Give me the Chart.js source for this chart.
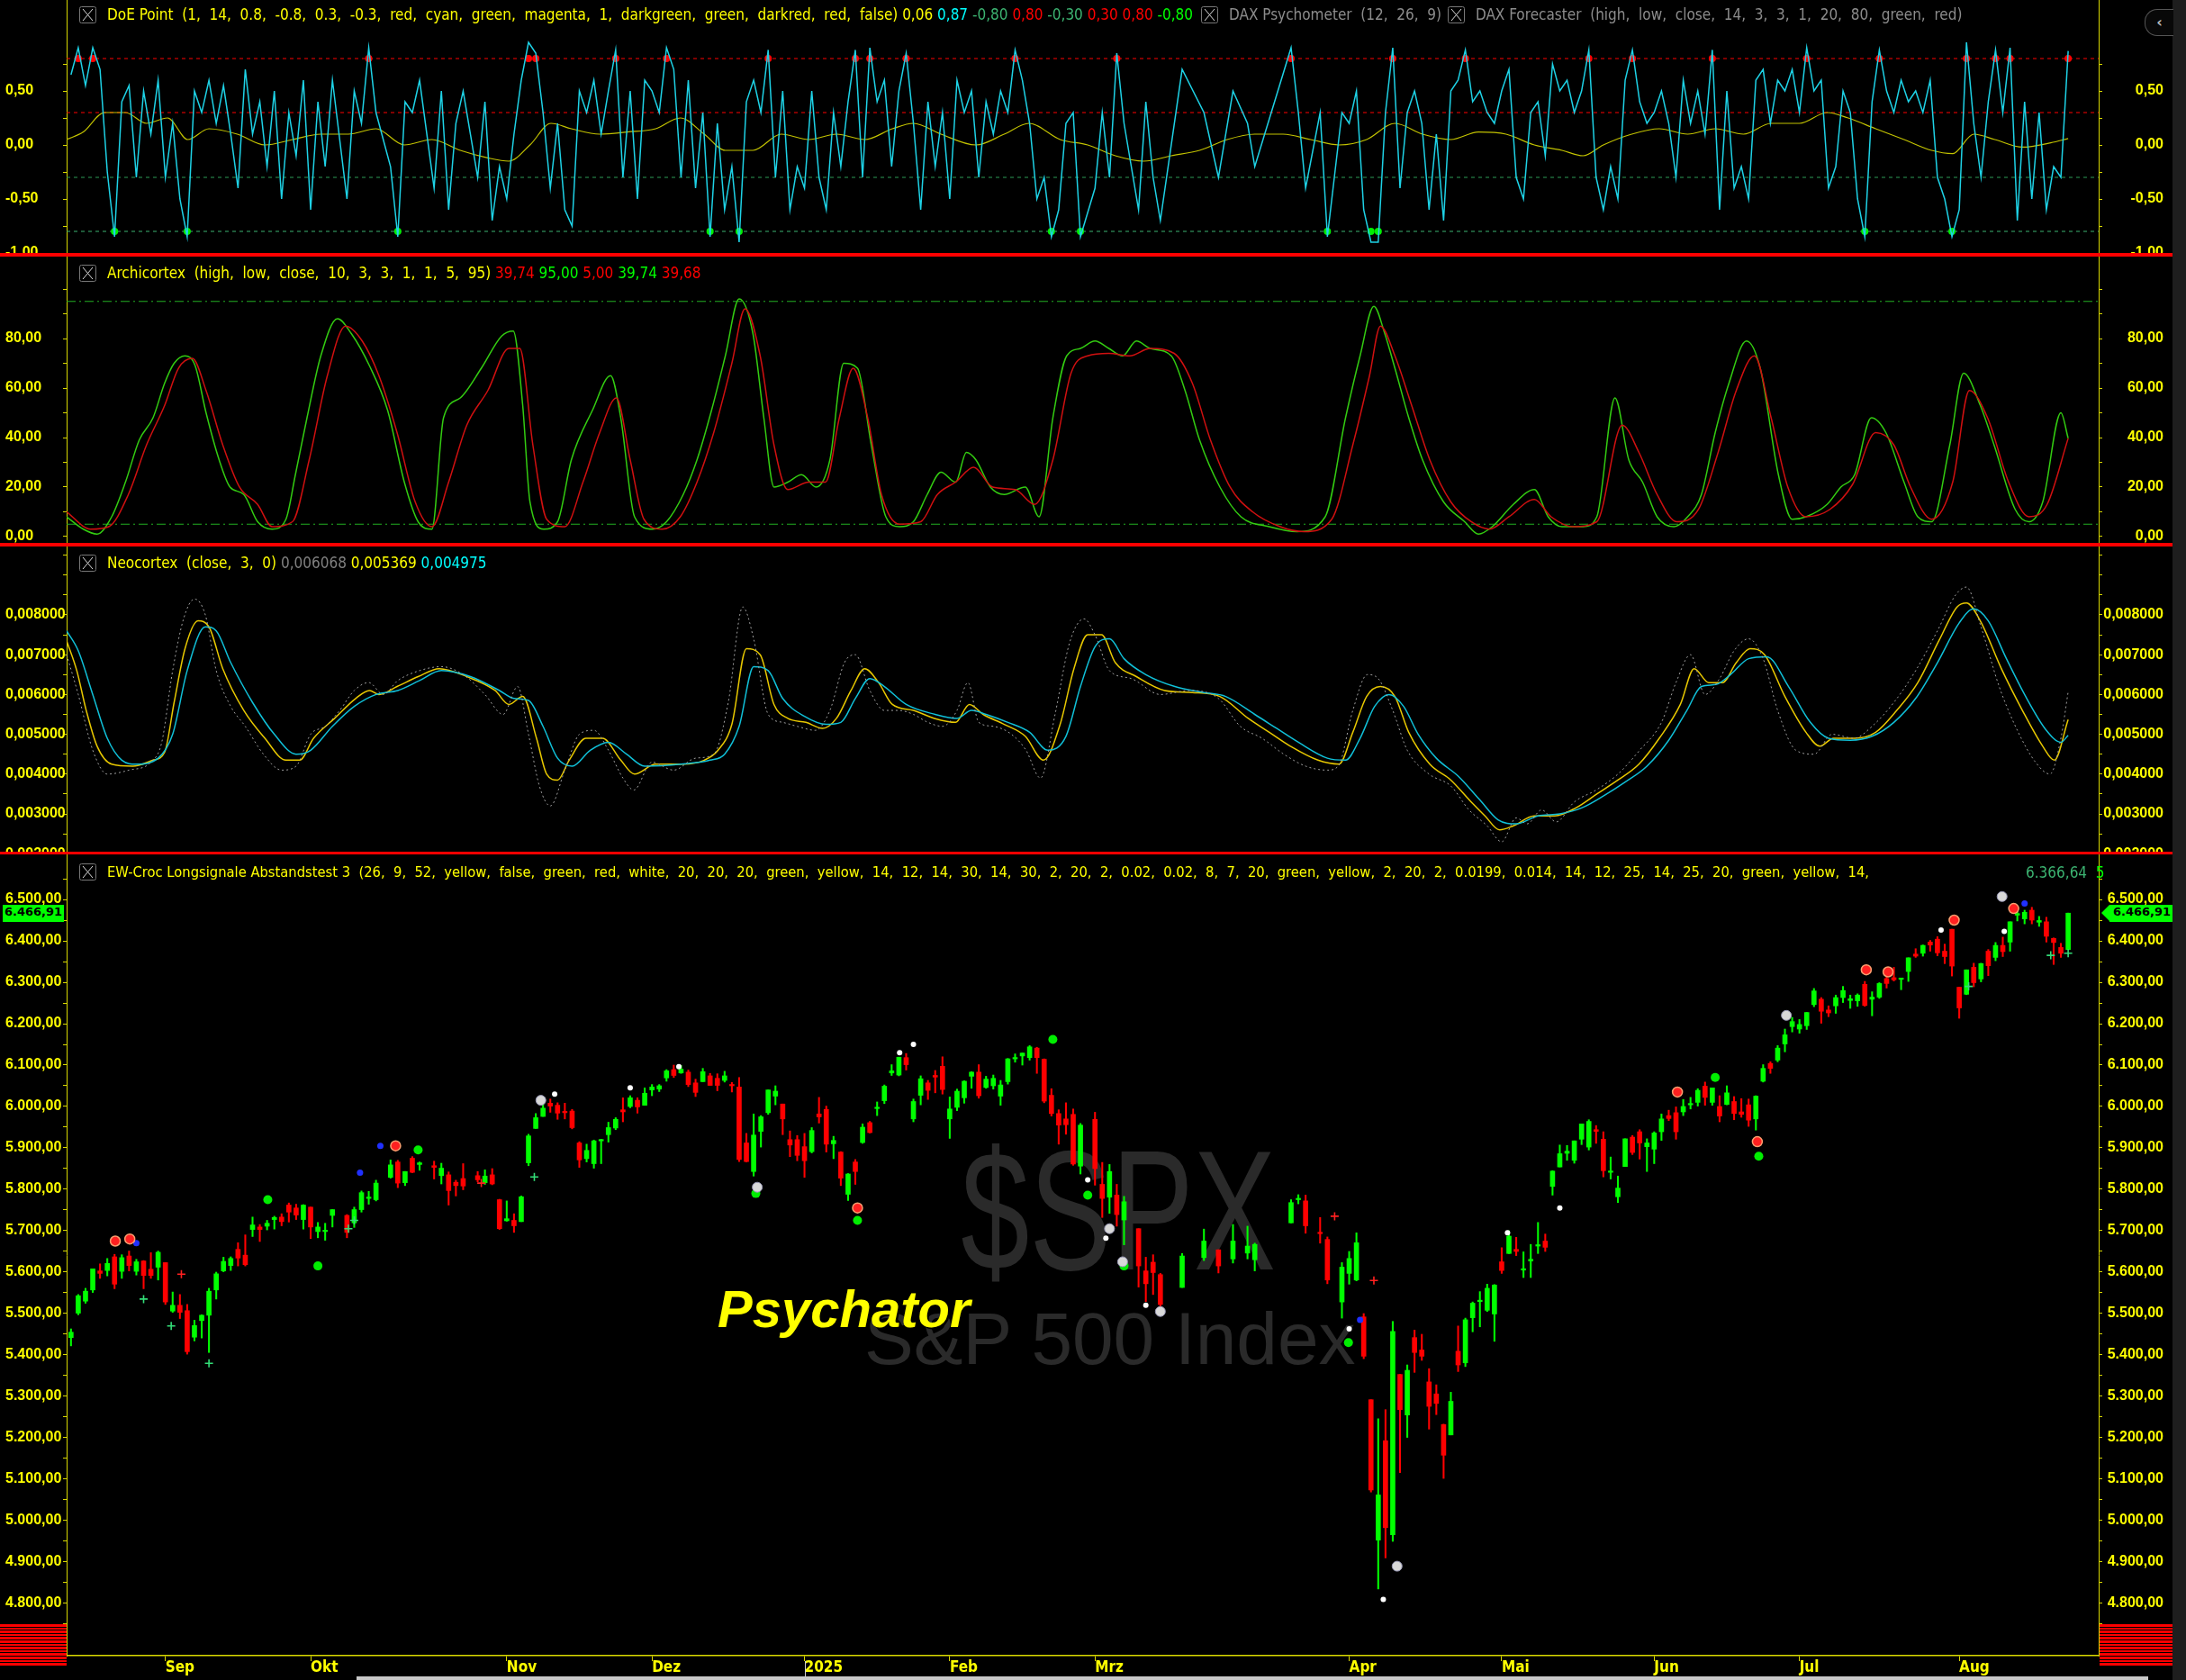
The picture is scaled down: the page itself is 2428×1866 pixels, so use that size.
<!DOCTYPE html>
<html>
<head>
<meta charset="utf-8">
<script src="https://cdn.jsdelivr.net/npm/chart.js@4/dist/chart.umd.min.js"></script>
<style>
  body { margin: 0; background: #000; width: 2428px; height: 1866px; overflow: hidden; position: relative;
         font-family: 'Liberation Sans Narrow', 'DejaVu Sans Condensed', 'Arial Narrow', sans-serif; }
  .box { position: absolute; left: 6px; width: 2397px; overflow: hidden; }
  .box canvas { position: absolute; left: 0; top: -12px; }
  .sep { position: absolute; left: 0; width: 2413px; background: #ff0000; }
  .hdr { position: absolute; left: 88px; height: 22px; line-height: 22px; font-size: 17px; white-space: pre; color: #ffff00; }
  .hdr svg { vertical-align: middle; margin-right: 12px; position: relative; top: -1px; }
  .y { color: #ffff00; } .c { color: #00ffff; } .sg { color: #3cb371; } .r { color: #ff0000; }
  .l { color: #00ff00; } .g { color: #8c8c8c; } .gv { color: #808080; }
  .wm { position: absolute; color: #2a2a2a; font-family: 'Liberation Sans', Arial, sans-serif; white-space: pre; }
  .tag { position: absolute; top: 1005px; height: 19px; line-height: 19px; background: #00ff00; color: #000;
         font: bold 13px 'DejaVu Sans', sans-serif; }
  .stripes { position: absolute; top: 1804px; height: 46px;
             background: repeating-linear-gradient(#ff0000 0 2.6px, #000 2.6px 3.6px); }
</style>
</head>
<body>
<div class="wm" style="left:1000px; top:1235px; font-size:190px; width:480px; text-align:center; transform:scaleX(0.72);">$SPX</div>
<div class="wm" style="left:960px; top:1440px; font-size:82px; width:534px; text-align:center;">S&amp;P 500 Index</div>

<div class="box" style="top:0px; height:281px"><canvas id="doe" width="2397" height="305"></canvas></div>
<div class="box" style="top:285px; height:318px"><canvas id="archi" width="2397" height="342"></canvas></div>
<div class="box" style="top:607px; height:339px"><canvas id="neo" width="2397" height="363"></canvas></div>
<div class="box" style="top:949px; height:917px"><canvas id="price" width="2397" height="929"></canvas></div>

<div class="sep" style="top:281px; height:4px"></div>
<div class="sep" style="top:603px; height:4px"></div>
<div class="sep" style="top:946px; height:3px"></div>

<div class="hdr" style="top:5px"><svg width="19" height="19"><rect x="0.5" y="0.5" width="18" height="18" rx="2" fill="none" stroke="#777"/><line x1="4" y1="3" x2="15" y2="16" stroke="#ddd"/><line x1="15" y1="3" x2="4" y2="16" stroke="#ddd"/></svg><span class="y">DoE Point  (1,  14,  0.8,  -0.8,  0.3,  -0.3,  red,  cyan,  green,  magenta,  1,  darkgreen,  green,  darkred,  red,  false)</span> <span class="y">0,06</span> <span class="c">0,87</span> <span class="sg">-0,80</span> <span class="r">0,80</span> <span class="sg">-0,30</span> <span class="r">0,30</span> <span class="r">0,80</span> <span class="l">-0,80</span> <svg width="19" height="19" style="margin-left:4px"><rect x="0.5" y="0.5" width="18" height="18" rx="2" fill="none" stroke="#777"/><line x1="4" y1="3" x2="15" y2="16" stroke="#ddd"/><line x1="15" y1="3" x2="4" y2="16" stroke="#ddd"/></svg><span class="g">DAX Psychometer  (12,  26,  9)</span> <svg width="19" height="19" style="margin-left:2px"><rect x="0.5" y="0.5" width="18" height="18" rx="2" fill="none" stroke="#777"/><line x1="4" y1="3" x2="15" y2="16" stroke="#ddd"/><line x1="15" y1="3" x2="4" y2="16" stroke="#ddd"/></svg><span class="g">DAX Forecaster  (high,  low,  close,  14,  3,  3,  1,  20,  80,  green,  red)</span></div>

<div class="hdr" style="top:292px"><svg width="19" height="19"><rect x="0.5" y="0.5" width="18" height="18" rx="2" fill="none" stroke="#777"/><line x1="4" y1="3" x2="15" y2="16" stroke="#ddd"/><line x1="15" y1="3" x2="4" y2="16" stroke="#ddd"/></svg><span class="y">Archicortex  (high,  low,  close,  10,  3,  3,  1,  1,  5,  95)</span> <span class="r">39,74</span> <span class="l">95,00</span> <span class="r">5,00</span> <span class="l">39,74</span> <span class="r">39,68</span></div>

<div class="hdr" style="top:614px"><svg width="19" height="19"><rect x="0.5" y="0.5" width="18" height="18" rx="2" fill="none" stroke="#777"/><line x1="4" y1="3" x2="15" y2="16" stroke="#ddd"/><line x1="15" y1="3" x2="4" y2="16" stroke="#ddd"/></svg><span class="y">Neocortex  (close,  3,  0)</span> <span class="gv">0,006068</span> <span class="y">0,005369</span> <span class="c">0,004975</span></div>

<div class="hdr" style="top:958px; font-size:16.4px"><svg width="19" height="19"><rect x="0.5" y="0.5" width="18" height="18" rx="2" fill="none" stroke="#777"/><line x1="4" y1="3" x2="15" y2="16" stroke="#ddd"/><line x1="15" y1="3" x2="4" y2="16" stroke="#ddd"/></svg><span class="y">EW-Croc Longsignale Abstandstest 3  (26,  9,  52,  yellow,  false,  green,  red,  white,  20,  20,  20,  green,  yellow,  14,  12,  14,  30,  14,  30,  2,  20,  2,  0.02,  0.02,  8,  7,  20,  green,  yellow,  2,  20,  2,  0.0199,  0.014,  14,  12,  25,  14,  25,  20,  green,  yellow,  14,</span></div>
<div class="hdr" style="top:958px; left:2250px"><span class="sg">6.366,64</span>  <span class="l">5</span></div>

<div style="position:absolute; left:797px; top:1420px; font: italic bold 58px 'Liberation Sans', Arial, sans-serif; color:#ffff00; text-shadow: 2px 2px 0 #000;">Psychator</div>

<div class="tag" id="tagL" style="left:3px; width:68px; text-align:center"></div>
<div class="tag" id="tagR" style="left:2343px; width:67px; padding-left:4px"></div>
<div style="position:absolute; left:2334px; top:1005px; width:0; height:0; border-top:9.5px solid transparent; border-bottom:9.5px solid transparent; border-right:9px solid #00ff00"></div>

<div class="stripes" style="left:0; width:74px"></div>
<div class="stripes" style="left:2332px; width:81px"></div>
<div style="position:absolute; left:2413px; top:0; width:15px; height:1866px; background:#1e1e1e"></div>
<div style="position:absolute; left:2382px; top:10px; width:31px; height:28px; border:1px solid #555; border-right:none; border-radius:14px 0 0 14px; background:#080808; color:#bbb; font:bold 16px 'DejaVu Sans',sans-serif; line-height:28px; text-align:center">&lsaquo;</div>
<div style="position:absolute; left:396px; top:1862px; width:1990px; height:4px; background:#c8c8c8"></div>

<script>
// trading sessions per month, '-' = empty slot on the time axis
const sessions = [
  ['2024-08', '14 15 16 19 20 21 22 23 26 27 28 29 30'],
  ['2024-09', '3 4 5 6 9 10 11 12 13 16 17 18 19 20 23 24 25 26 27 30'],
  ['2024-10', '1 2 3 4 - 7 8 9 10 11 - 14 15 16 17 18 - 21 22 23 24 25 - 28 29 30 31'],
  ['2024-11', '1 4 5 6 7 8 11 12 13 14 15 18 19 20 21 22 25 26 27 29'],
  ['2024-12', '2 3 4 5 6 9 10 11 12 13 16 17 18 19 20 23 24 26 27 30 31'],
  ['2025-01', '2 3 6 7 8 10 13 14 15 16 17 21 22 23 24 27 28 29 30 31'],
  ['2025-02', '3 4 5 6 7 10 11 12 13 14 18 19 20 21 24 25 26 27 28'],
  ['2025-03', '- 3 4 5 6 7 - 10 11 12 13 - - 14 - - 17 - 18 - 19 - 20 21 - - - - 24 25 26 - 27 28 - 31'],
  ['2025-04', '1 2 3 4 7 8 9 10 11 14 15 16 17 21 22 23 24 25 28 29 30'],
  ['2025-05', '1 2 5 6 7 8 9 12 13 14 15 16 19 20 21 22 23 27 28 29 30'],
  ['2025-06', '2 3 4 5 6 9 10 11 12 13 16 17 18 20 23 24 25 26 27 30'],
  ['2025-07', '1 2 3 7 8 9 10 11 14 15 16 17 18 21 22 23 24 25 28 29 30 31'],
  ['2025-08', '1 4 5 6 7 8 11 12 13 14 15 18 19 20 21 22']
]
const monthNames = ['Jan', 'Feb', 'Mrz', 'Apr', 'Mai', 'Jun', 'Jul', 'Aug', 'Sep', 'Okt', 'Nov', 'Dez']
const xMin = -0.6
const xMax = 279.2

// $SPX daily candles [open, high, low, close]
const candles = [
  // Aug 2024
  [5442,5463,5422,5455],[5501,5546,5497,5543],[5530,5561,5525,5554],[5557,5608,5551,5608],[5603,5620,5585,5597],
  [5604,5633,5591,5621],[5637,5643,5560,5571],[5602,5642,5585,5635],[5639,5651,5603,5616],[5602,5631,5593,5625],
  [5627,5628,5560,5592],[5607,5647,5585,5592],[5612,5651,5581,5648],
  // Sep
  [5623,5623,5522,5528],[5506,5552,5503,5520],[5520,5546,5488,5503],[5507,5522,5402,5408],[5443,5484,5434,5471],
  [5483,5497,5441,5496],[5496,5561,5406,5554],[5557,5600,5535,5596],[5603,5636,5601,5626],[5616,5637,5604,5633],
  [5655,5671,5615,5634],[5641,5690,5615,5618],[5703,5733,5686,5714],[5709,5715,5674,5703],[5711,5725,5702,5718],
  [5727,5735,5704,5732],[5733,5741,5712,5722],[5762,5767,5721,5745],[5755,5764,5727,5738],[5727,5763,5704,5762],
  // Oct
  [5757,5757,5681,5709],[5698,5720,5683,5709],[5698,5718,5677,5700],[5737,5751,5709,5751],[5737,5739,5683,5696],
  [5719,5757,5708,5751],[5751,5796,5745,5792],[5778,5795,5764,5780],[5775,5822,5772,5815],[5829,5871,5827,5859],
  [5866,5870,5804,5815],[5816,5843,5809,5843],[5875,5879,5840,5841],[5860,5866,5846,5864],[5857,5868,5825,5853],
  [5833,5863,5813,5851],[5835,5842,5762,5797],[5817,5822,5784,5809],[5826,5862,5799,5808],[5833,5843,5818,5823],
  [5816,5847,5812,5832],[5835,5850,5811,5813],[5775,5776,5703,5705],
  // Nov
  [5724,5772,5723,5729],[5725,5741,5696,5712],[5722,5784,5722,5782],[5864,5933,5857,5929],[5947,5983,5947,5973],
  [5976,6012,5976,5996],[6008,6018,5986,6001],[6003,6009,5969,5984],[5986,6008,5970,5985],[5989,5993,5946,5949],
  [5912,5915,5853,5871],[5874,5909,5866,5894],[5862,5919,5851,5917],[5917,5921,5862,5917],[5932,5962,5914,5949],
  [5948,5973,5944,5969],[5992,6021,5963,5987],[6000,6026,5997,6021],[6015,6021,5984,5999],[6003,6045,6003,6032],
  // Dec
  [6040,6053,6026,6047],[6042,6053,6036,6050],[6069,6089,6061,6086],[6089,6100,6070,6075],[6081,6099,6080,6090],
  [6083,6088,6048,6053],[6057,6066,6024,6034],[6060,6092,6060,6084],[6074,6080,6051,6051],[6068,6079,6038,6051],
  [6063,6085,6059,6074],[6053,6058,6035,6050],[6047,6070,5867,5872],[5912,5935,5866,5867],[5843,5982,5832,5931],
  [5940,5978,5902,5975],[5985,6040,5981,6040],[6025,6050,6004,6037],[6006,6006,5932,5970],[5920,5941,5879,5907],
  [5920,5930,5869,5882],
  // Jan 2025
  [5903,5935,5829,5869],[5891,5949,5888,5942],[5982,6022,5960,5975],[5993,6001,5890,5909],[5910,5928,5874,5918],
  [5890,5891,5809,5827],[5788,5838,5773,5837],[5866,5872,5812,5843],[5913,5958,5911,5950],[5961,5964,5936,5937],
  [5995,6011,5978,5997],[6014,6052,6007,6049],[6081,6101,6075,6086],[6076,6119,6074,6119],[6118,6128,6088,6101],
  [5970,6018,5963,6012],[6027,6074,6004,6067],[6057,6063,6017,6039],[6075,6087,6033,6071],[6097,6120,6030,6041],
  // Feb
  [5970,6023,5923,5994],[5998,6042,5990,6037],[6021,6062,6008,6061],[6073,6084,6044,6083],[6083,6101,6020,6026],
  [6046,6073,6044,6066],[6050,6076,6042,6068],[6025,6063,6003,6052],[6060,6116,6054,6115],[6115,6127,6107,6115],
  [6122,6129,6100,6129],[6118,6147,6112,6144],[6141,6143,6080,6118],[6114,6115,6009,6013],[6027,6043,5977,5983],
  [5983,5992,5909,5955],[5970,6009,5933,5956],[5981,5994,5858,5861],[5856,5959,5837,5955],
  // Mar
  [5969,5986,5810,5850],[5812,5865,5732,5778],[5781,5860,5742,5843],[5786,5812,5711,5739],[5726,5783,5666,5770],
  [5705,5705,5564,5615],[5603,5636,5529,5572],[5624,5642,5546,5599],[5594,5597,5505,5522],[5563,5645,5563,5639],
  [5635,5704,5628,5675],[5654,5654,5598,5615],[5632,5715,5622,5675],[5646,5711,5632,5663],[5630,5670,5603,5667],
  [5719,5775,5719,5768],[5775,5787,5765,5777],[5772,5786,5694,5712],[5695,5732,5670,5693],[5679,5685,5572,5581],
  [5528,5623,5489,5612],
  // Apr
  [5597,5650,5571,5633],[5581,5695,5579,5671],[5492,5500,5391,5397],[5292,5292,5069,5074],[4953,5246,4835,5062],
  [5193,5268,4910,4983],[4966,5481,4950,5457],[5353,5353,5116,5268],[5255,5376,5201,5363],[5442,5460,5358,5406],
  [5412,5450,5387,5397],[5335,5367,5221,5276],[5306,5328,5256,5283],[5232,5233,5102,5158],[5207,5310,5207,5288],
  [5409,5470,5360,5376],[5381,5489,5372,5485],[5490,5528,5456,5525],[5529,5553,5468,5529],[5508,5571,5505,5561],
  [5499,5570,5433,5569],
  // May
  [5625,5659,5597,5604],[5645,5700,5645,5687],[5655,5684,5640,5650],[5605,5649,5587,5607],[5627,5667,5587,5631],
  [5663,5720,5645,5664],[5675,5692,5650,5660],[5807,5845,5786,5844],[5854,5907,5854,5886],[5887,5906,5870,5892],
  [5870,5917,5863,5917],[5921,5958,5908,5958],[5902,5968,5895,5964],[5944,5954,5911,5940],[5921,5939,5830,5845],
  [5841,5878,5825,5842],[5782,5832,5768,5803],[5855,5922,5855,5922],[5926,5930,5884,5889],[5939,5944,5873,5912],
  [5903,5922,5843,5912],
  // Jun
  [5897,5939,5862,5936],[5939,5982,5918,5970],[5978,5991,5966,5971],[5985,5999,5921,5939],[5987,6017,5978,6000],
  [6004,6022,5994,6006],[6010,6043,6001,6039],[6049,6059,6003,6022],[6010,6045,6003,6045],[6000,6026,5963,5977],
  [6005,6050,6004,6033],[6012,6024,5968,5983],[5987,6019,5974,5981],[6004,6018,5952,5967],[5970,6026,5943,6025],
  [6061,6101,6059,6092],[6104,6108,6080,6092],[6112,6147,6108,6141],[6151,6187,6132,6173],[6193,6215,6180,6205],
  // Jul
  [6187,6210,6177,6198],[6195,6227,6186,6227],[6246,6285,6241,6279],[6259,6263,6201,6230],[6233,6243,6217,6226],
  [6243,6269,6225,6263],[6263,6290,6251,6280],[6256,6269,6237,6260],[6255,6272,6242,6269],[6295,6302,6242,6244],
  [6259,6277,6219,6264],[6264,6299,6261,6297],[6309,6316,6286,6297],[6311,6336,6303,6306],[6307,6310,6282,6310],
  [6326,6359,6302,6359],[6368,6381,6360,6363],[6370,6390,6363,6389],[6397,6401,6375,6390],[6404,6410,6364,6371],
  [6375,6392,6345,6362],[6428,6428,6315,6339],
  // Aug
  [6288,6288,6213,6238],[6271,6330,6270,6330],[6336,6346,6289,6299],[6308,6346,6301,6345],[6375,6379,6316,6340],
  [6360,6396,6352,6389],[6389,6409,6362,6374],[6397,6446,6375,6446],[6462,6481,6448,6466],[6453,6474,6441,6469],
  [6474,6481,6441,6450],[6445,6459,6435,6449],[6446,6457,6397,6411],[6406,6407,6343,6396],[6384,6394,6360,6370],
  [6379,6467,6379,6466.91]
]

// DoE Point oscillator, one value per session
const doeCyan = [
  0.65, 0.9, 0.55, 0.9, 0.7, -0.25, -0.85, 0.4, 0.55, -0.3, 0.5, 0.1, 0.6,
  -0.3, 0.2, -0.5, -0.85, 0.5, 0.3, 0.6, 0.2, 0.55, 0.1, -0.4, 0.7, 0.1, 0.4, -0.2, 0.5, -0.5, 0.3, -0.1, 0.6,
  -0.6, 0.4, -0.2, 0.6, -0.5, 0.5, 0.2, 0.9, 0.3, -0.2, -0.85, 0.4, 0.3, 0.6, -0.4, 0.5, -0.6, 0.2, 0.5, -0.3, 0.4, -0.7, -0.2,
  -0.5, 0.1, 0.6, 0.95, 0.85, 0.3, -0.4, 0.2, -0.6, -0.75, 0.5, 0.3, 0.6, 0.1, 0.5, 0.88, -0.3, 0.5, -0.5, 0.6,
  0.5, 0.3, 0.9, 0.7, -0.3, 0.6, -0.4, 0.3, -0.85, 0.2, -0.6, -0.2, -0.9, 0.4, 0.6, 0.3, 0.88, -0.3, 0.5, -0.6, -0.2,
  -0.4, 0.5, -0.3, -0.6, 0.3, -0.2, 0.4, 0.88, -0.3, 0.9, 0.4, 0.6, -0.2, 0.5, 0.85, 0.2, -0.6, 0.4, -0.2, 0.3,
  -0.5, 0.6, 0.3, 0.5, -0.3, 0.4, 0.1, 0.5, 0.3, 0.88, 0.6, 0.2, -0.5, -0.3, -0.85, -0.6, 0.2, 0.3, -0.85,
  -0.4, 0.3, -0.3, 0.85, 0.2, -0.6, 0.4, -0.3, -0.7, 0.7, 0.3, -0.3, 0.5, 0.2, -0.2, 0.9, 0.3, -0.4, 0.3, -0.85, 0.3,
  0.2, 0.5, -0.6, -0.9, -0.9, 0.3, 0.9, -0.4, 0.3, 0.5, 0.2, -0.6, 0.1, -0.7, 0.5, 0.6, 0.88, 0.4, 0.5, 0.3, 0.2,
  0.5, 0.7, -0.3, -0.5, 0.3, 0.4, -0.1, 0.75, 0.5, 0.6, 0.3, 0.5, 0.88, -0.3, -0.6, -0.2, -0.5, 0.6, 0.88, 0.4, 0.2,
  0.3, 0.5, 0.2, -0.3, 0.6, 0.2, 0.5, 0.1, 0.88, -0.6, 0.5, -0.4, -0.2, -0.5, 0.6, 0.7, 0.2, 0.6, 0.5, 0.7,
  0.3, 0.9, 0.5, 0.6, -0.4, -0.2, 0.5, 0.3, -0.5, -0.85, 0.4, 0.88, 0.5, 0.3, 0.6, 0.4, 0.5, 0.3, 0.6, -0.3, -0.5, -0.85,
  -0.6, 0.95, 0.2, -0.3, 0.4, 0.88, 0.3, 0.9, -0.7, 0.4, -0.5, 0.3, -0.6, -0.2, -0.3, 0.87
]
// smoothed DoE line, [slot, value]
const doeSignal = [
  [-0.6,0.05],[1.7,0.12],[4.6,0.3],[7.5,0.3],[10.4,0.2],[13.3,0.25],[16.1,0.05],[19,0.15],[22.9,0.1],[26.7,0],
  [30.5,0.05],[34.4,0.1],[38.2,0.1],[42,0.15],[45.9,0],[49.7,0.05],[53.6,-0.05],[57.4,-0.12],[60.3,-0.15],[63.2,0],
  [66.1,0.2],[68.9,0.15],[72.8,0.1],[76.6,0.12],[80.5,0.15],[83.9,0.25],[87.2,0.1],[90.1,-0.05],[93.9,-0.05],[97.8,0.1],
  [101.6,0.05],[105.4,0.1],[109.3,0.05],[113.1,0.15],[116,0.2],[119.8,0.1],[124.6,0],[128.5,0.1],[131.9,0.2],[136.2,0.05],
  [140,0],[143.8,-0.1],[147.7,-0.15],[151.5,-0.1],[155.4,-0.05],[159.2,0.05],[163,0.1],[166.9,0.1],[170.7,0.05],[174.6,0],
  [178.4,0.05],[182.3,0.2],[186.1,0.1],[190,0.05],[193.8,0.12],[197.6,0.1],[201.5,0],[205.3,-0.05],[208.2,-0.1],[211,0],
  [214.9,0.1],[218.7,0.15],[222.6,0.1],[226.4,0.15],[230.3,0.1],[234.1,0.2],[238,0.2],[241.8,0.3],[244.7,0.25],[248.5,0.15],
  [252.4,0.05],[256.2,-0.05],[259.1,-0.08],[262,0.1],[264.9,0.05],[268.7,-0.02],[272.6,0.02],[275,0.06]
]
const doeLevels = [0.8, 0.3, -0.3, -0.8]
const doeTicks = [-1, -0.5, 0, 0.5]
const doeMinor = [-0.75, -0.25, 0.25, 0.75]

// Archicortex, [slot, value]
const archiGreen = [
  [-0.6,8],[1.7,3],[3.6,1],[5.6,8],[7.5,22],[9.4,39],[11.3,48],[12.9,62],[14.2,70],[15.7,73],[17.1,69],[18.6,50],
  [20.4,31],[21.9,20],[23.8,17],[25.7,6],[27.7,3],[29.6,7],[30.9,25],[32.5,48],[34.4,73],[36.7,88],[38.6,82],[41.1,69],
  [43.6,51],[45.9,22],[47.8,6],[49.7,3],[51.3,48],[53.6,56],[56.5,68],[59.3,81],[60.9,83],[62.2,53],[63.2,14],[65.1,3],
  [67,6],[68.9,31],[71.8,51],[74.3,65],[75.7,48],[77.6,8],[80.1,3],[82,6],[84.3,17],[86.2,31],[88.2,51],[90.1,73],
  [92,96],[93.9,82],[95.4,48],[96.8,20],[98.7,22],[100.6,25],[102.6,20],[104.5,31],[106.4,70],[108.3,68],[110.2,37],
  [112.2,8],[114.1,4],[116,6],[117.9,17],[119.8,26],[121.8,22],[123.3,34],[124.6,31],[126.6,20],[128.5,17],[131.4,20],
  [133.3,8],[135.2,48],[137.1,73],[139,76],[141,79],[142.9,76],[144.8,73],[146.7,79],[148.6,76],[151.5,73],[153.4,59],
  [155.4,39],[158.2,20],[161.1,8],[165,4],[168.8,2],[172.7,8],[175.5,48],[177.5,73],[179.4,93],[180.9,82],[182.3,68],
  [184.2,48],[186.1,31],[189,14],[191.9,6],[193.8,1],[195.7,4],[198.6,13],[201.5,19],[203.4,8],[205.3,4],[208.2,4],
  [210.1,8],[212.6,56],[214.5,31],[216.4,22],[218.4,8],[220.7,4],[222.6,8],[224.5,17],[226.4,42],[228.3,62],[230.7,79],
  [232.6,68],[235.1,25],[237,7],[238.9,8],[241.8,13],[243.7,20],[245.6,25],[247.9,48],[249.9,42],[252.4,22],[254.3,8],
  [256.2,6],[258.7,37],[260.6,66],[262.9,53],[264.8,37],[267.7,11],[269.6,6],[271.5,14],[274,50],[275,39.74]
]
const archiRed = [
  [-0.6,10],[2.7,3],[5.2,4],[7.9,17],[10.4,37],[12.9,53],[14.8,68],[16.7,72],[18.6,59],[20.9,37],[23.2,20],[25.7,13],
  [27.7,4],[30.5,6],[32.8,31],[35.3,65],[37.8,85],[40.1,79],[42.4,65],[44.9,42],[47.4,14],[49.7,4],[52,22],[54.5,45],
  [57.4,59],[60.3,76],[61.8,76],[63.6,37],[65.5,7],[68,4],[70.5,22],[72.8,42],[75.1,56],[77,31],[78.9,7],[81.4,3],
  [83.9,8],[86.2,22],[88.5,42],[91,70],[92.8,92],[94.9,73],[96.8,37],[98.7,19],[101.6,22],[103.9,22],[105.8,48],
  [107.7,68],[109.7,48],[111.6,17],[114.1,5],[117,6],[119.3,17],[121.8,22],[124.3,28],[126.9,20],[130,19],[132.7,13],
  [135.2,31],[137.7,66],[140,73],[142.9,74],[145.8,73],[148.6,76],[151.9,74],[154.4,62],[156.9,39],[159.6,20],[162.7,10],
  [166.5,4],[169.8,2],[173.6,7],[176.5,37],[178.8,65],[180.3,85],[182.3,73],[184.6,53],[187.1,31],[190,14],[192.8,6],
  [195.3,3],[198,8],[201.5,15],[203.8,8],[206.8,4],[210.1,6],[213.6,45],[215.9,34],[218.4,17],[221.1,6],[224.1,11],
  [226.8,34],[229.3,59],[231.8,73],[234.1,48],[236.4,20],[238.9,8],[242.2,11],[245.3,21],[248.5,42],[251,37],[253.3,20],
  [256.2,7],[259.1,22],[261.4,59],[263.9,48],[266.8,22],[269.6,8],[272.1,13],[275,39.68]
]
const archiLevels = [95, 5]
const archiTicks = [0, 20, 40, 60, 80]
const archiMinor = [10, 30, 50, 70, 90, 100]

// Neocortex (values in thousandths), [slot, value]
const neoFast = [
  [-0.6,7.0],[1,6.0],[3,4.6],[5,4.0],[8,4.1],[11,4.3],[12.5,4.8],[14,6.6],[15.5,7.9],[17,8.4],[18.5,8.0],[20,6.6],
  [22,5.7],[24,5.2],[26.5,4.5],[29,4.1],[31,4.2],[33,5.0],[35,5.2],[37,5.6],[39,6.1],[41,6.3],[43,6.0],[45,6.35],
  [48,6.6],[51,6.7],[54,6.5],[57,6.0],[59.5,5.5],[61.5,6.2],[63,5.0],[64.5,3.7],[66,3.2],[68,4.1],[70,5.0],[72,5.1],
  [74,4.6],[76,3.9],[77.5,3.6],[80,4.3],[83,4.1],[86,4.4],[88.5,4.5],[90.5,5.8],[92.5,8.2],[94,7.4],[96,5.5],[98,5.3],
  [100,5.2],[102.5,5.1],[104.5,5.6],[106.5,6.8],[108,7.0],[110,6.1],[112,5.6],[114,5.6],[116,5.5],[118,5.3],[120,5.2],
  [122,5.6],[123.5,6.3],[125,5.3],[127,5.2],[129.5,5.0],[131.5,4.6],[133.5,3.9],[135.5,5.5],[137.5,7.3],[139.5,7.9],
  [141,7.5],[143,6.6],[146,6.4],[150,6.0],[154,6.1],[158,5.9],[161,5.2],[164,4.9],[167,4.5],[170,4.2],[173,4.1],
  [174.5,4.2],[176.5,5.6],[178.5,6.5],[180,6.4],[182,5.6],[184,4.6],[187,4.0],[190,3.7],[192.5,3.1],[195,2.7],[197,2.3],
  [199,2.9],[200.5,2.75],[202.5,3.1],[204.5,2.8],[207,3.3],[210,3.6],[213,4.0],[216,4.6],[219,5.3],[221,6.3],[223,7.0],
  [225,6.0],[227,6.4],[229,7.1],[231,7.4],[233,6.9],[235,5.6],[237.5,4.6],[240,4.5],[242.5,5.0],[245.5,4.9],[248,5.2],
  [251,5.8],[254,6.6],[257,7.6],[259.5,8.5],[261,8.7],[263,7.7],[265.5,6.2],[268,5.1],[270.5,4.3],[272.5,4.0],[274,4.9],
  [275,6.068]
]
const neoMid = [
  [-0.6,7.35],[0.8,6.6],[2.1,5.6],[3.6,4.7],[5.6,4.25],[8.5,4.2],[11.3,4.35],[12.9,4.55],[14.2,5.8],[15.7,7.15],
  [17.5,7.85],[19,7.7],[20.9,6.65],[23.8,5.6],[26.7,4.9],[29.6,4.35],[31.5,4.35],[33.4,4.9],[36.3,5.4],[39.2,5.9],
  [41.1,6.1],[42.4,6.0],[44.9,6.2],[47.8,6.45],[50.7,6.65],[54.5,6.45],[58.4,6.1],[60.3,5.75],[62.2,5.95],[64.1,4.9],
  [65.5,4.0],[67,3.85],[68.6,4.35],[70.9,4.9],[73.2,4.9],[75.7,4.35],[77.6,4.0],[80.5,4.25],[84.3,4.25],[87.2,4.35],
  [89.1,4.6],[91,5.25],[93,7.15],[94.9,7.0],[96.8,5.75],[98.7,5.4],[101.2,5.3],[103.5,5.15],[105.4,5.4],[107.4,6.1],
  [109.3,6.65],[111.2,6.3],[113.1,5.75],[116,5.6],[118.9,5.4],[121.8,5.3],[123.7,5.75],[125.6,5.5],[128.5,5.25],
  [131.4,4.95],[133.9,4.35],[136.2,5.25],[138.1,6.65],[140,7.5],[141.9,7.5],[143.8,6.8],[146.7,6.45],[150.6,6.1],
  [154.4,6.05],[158.2,5.95],[162.1,5.4],[165,5.05],[167.9,4.7],[171.7,4.35],[174.6,4.25],[176.5,5.05],[178.4,5.95],
  [180.3,6.2],[182.3,5.95],[184.2,5.05],[187.1,4.25],[190,3.85],[192.8,3.3],[194.7,2.95],[196.7,2.6],[198.6,2.7],
  [201.5,2.95],[204.3,2.95],[207.2,3.15],[210.1,3.5],[213,3.85],[215.9,4.25],[218.7,4.9],[221.6,5.75],[223.5,6.65],
  [225.5,6.3],[227.4,6.3],[229.3,6.8],[231.2,7.15],[233.2,7.0],[236,5.95],[238.9,5.05],[240.8,4.7],[242.7,4.9],
  [245.6,4.9],[248.5,5.05],[251.4,5.6],[254.3,6.3],[257.2,7.35],[259.7,8.2],[261,8.3],[262.9,7.85],[265.8,6.65],
  [268.7,5.6],[271.5,4.7],[273.1,4.35],[275,5.369]
]
const neoSlow = [
  [-0.6,7.6],[1,7.1],[3,6.0],[5,4.9],[7,4.35],[9,4.25],[12,4.4],[14,5.0],[16,6.6],[18.5,7.7],[20,7.6],[22,6.8],
  [25,5.8],[28,5.0],[31,4.5],[33,4.6],[36,5.2],[39,5.7],[42,6.0],[45,6.1],[48,6.35],[51,6.6],[55,6.45],[59,6.1],
  [61,5.9],[63,5.85],[65,5.2],[67,4.4],[69,4.2],[71.5,4.6],[74,4.8],[76.5,4.5],[79,4.2],[84,4.25],[88,4.35],[90,4.5],
  [92,5.2],[94,6.7],[96,6.6],[98,5.9],[101,5.45],[104,5.25],[106,5.3],[108,5.9],[110,6.4],[112,6.2],[115,5.75],
  [119,5.5],[122,5.4],[124,5.6],[126,5.5],[129,5.3],[132,5.05],[134.5,4.6],[137,4.95],[139,6.2],[141,7.2],[143,7.4],
  [145,6.9],[148,6.5],[152,6.2],[156,6.05],[159,5.95],[163,5.5],[166,5.15],[169,4.8],[173,4.4],[175.5,4.35],[177.5,4.9],
  [179.5,5.7],[181.5,6.0],[183.5,5.7],[185.5,5.0],[188,4.4],[191,3.95],[194,3.35],[196.5,2.85],[199,2.75],[202,2.95],
  [205,3.0],[208,3.15],[211,3.45],[214,3.8],[217,4.2],[220,4.85],[222.5,5.6],[224.5,6.2],[226.5,6.25],[228.5,6.5],
  [231,6.9],[233.5,6.95],[236.5,6.2],[239.5,5.3],[242,4.9],[245,4.85],[248,4.95],[251,5.3],[254,5.9],[257,6.8],[260,7.8],
  [262,8.15],[264,7.85],[266.5,6.9],[269,6.0],[272,5.1],[274,4.8],[275,4.975]
]
const neoTicks = [0.002, 0.003, 0.004, 0.005, 0.006, 0.007, 0.008]
const neoMinor = [0.0025, 0.0035, 0.0045, 0.0055, 0.0065, 0.0075, 0.0085, 0.009, 0.0095]

// EW-Croc signal markers, [slot, price]
const sigRed = [[6.1,5675],[8.1,5680],[44.7,5905],[108.3,5755],[221.2,6035],[232.2,5915],[247.2,6330],[250.2,6325],[259.3,6450],[267.5,6478]]
const sigGray = [[64.7,6015],[94.5,5805],[143,5705],[144.8,5625],[150,5505],[182.6,4890],[236.2,6220],[265.9,6507]]
const sigWhite = [[66.6,6030],[77,6045],[83.7,6096],[114.1,6130],[116,6150],[140,5823],[142.5,5682],[148,5520],[176,5463],[180.7,4810],[197.8,5695],[205,5755],[257.5,6426],[266.2,6423]]
const sigGreen = [[27.1,5775],[34,5615],[47.8,5895],[94.3,5790],[108.3,5725],[135.2,6162],[140,5786],[145,5615],[175.9,5430],[226.4,6070],[232.4,5880]]
const sigBlue = [[9,5670],[39.8,5840],[42.6,5905],[177.5,5485],[269,6490]]
const crossGreen = [[10,5535],[13.8,5470],[19,5380],[38.2,5705],[39,5725],[63.8,5830],[261.3,6290],[272.6,6365],[275,6370]]
const crossRed = [[15.2,5595],[56.5,5815],[174,5735],[179.4,5580]]
const priceTicks = [4800, 4900, 5000, 5100, 5200, 5300, 5400, 5500, 5600, 5700, 5800, 5900, 6000, 6100, 6200, 6300, 6400, 6500]
const priceMinor = [4750, 4850, 4950, 5050, 5150, 5250, 5350, 5450, 5550, 5650, 5750, 5850, 5950, 6050, 6150, 6250, 6350, 6450, 6550]

// ---- build slots ----
const barSlots = []
const monthTicks = []
let slot = 0
sessions.forEach(([ym, days], mi) => {
    let first = true
    days.split(' ').forEach(d => {
        if (d !== '-') {
            if (first && mi > 0) {
                const [yr, mo] = ym.split('-').map(Number)
                monthTicks.push({ value: slot, label: mo === 1 ? String(yr) : monthNames[mo - 1] })
            }
            first = false
            barSlots.push(slot)
        }
        slot++
    })
})

function de(v, d) {
    const s = Math.abs(v).toFixed(d).split('.')
    const i = s[0].replace(/\B(?=(\d{3})+(?!\d))/g, '.')
    return (v < 0 ? '-' : '') + i + (d ? ',' + s[1] : '')
}
const pts = arr => arr.map(([x, y]) => ({ x, y }))

const AXIS = '#d8d800'
const TICKFONT = { family: "'Liberation Sans', Arial, sans-serif", size: 16, weight: 'bold' }
Chart.defaults.font.family = "'Liberation Sans Narrow', 'DejaVu Sans Condensed', sans-serif"

function yAxis(pos, width, min, max, majors, minors, fmt) {
    return {
        position: pos, min, max, beginAtZero: false,
        afterFit: s => { s.width = width },
        afterBuildTicks: s => { s.ticks = majors.concat(minors).sort((a, b) => a - b).map(v => ({ value: v })) },
        grid: { drawOnChartArea: false, drawTicks: true, tickLength: 4, tickColor: AXIS },
        border: { color: AXIS, width: 1 },
        ticks: { color: '#ffff00', font: TICKFONT, crossAlign: 'far', padding: 0, autoSkip: false,
            callback: v => majors.includes(v) ? fmt(v) : '' }
    }
}
function hiddenX() {
    return { type: 'linear', min: xMin, max: xMax, display: false, offset: false }
}
function levelLine(y, color, dash) {
    return { type: 'line', data: [{ x: xMin, y }, { x: xMax, y }], borderColor: color, borderWidth: 1,
        borderDash: dash, pointRadius: 0, order: 5 }
}
function smooth(data, color, width, dash) {
    return { type: 'line', data: pts(data), borderColor: color, borderWidth: width, borderDash: dash || [],
        pointRadius: 0, cubicInterpolationMode: 'monotone' }
}
function base(padBottom) {
    return {
        responsive: false, maintainAspectRatio: false, animation: false, devicePixelRatio: 1, events: [],
        layout: { padding: { top: 12, bottom: padBottom, left: 0, right: 0 } },
        plugins: { legend: { display: false }, tooltip: { enabled: false } }
    }
}

// ---- DoE Point ----
const doeHigh = [], doeLow = []
doeCyan.forEach((v, i) => {
    if (v >= 0.8) doeHigh.push({ x: barSlots[i], y: 0.8 })
    if (v <= -0.8) doeLow.push({ x: barSlots[i], y: -0.8 })
})
const doeColors = ['#ff0000', '#ff0000', '#2e9b57', '#3cb371']
new Chart(document.getElementById('doe'), {
    type: 'line',
    data: { datasets: [
        ...doeLevels.map((lv, i) => levelLine(lv, doeColors[i], [4, 4])),
        { data: doeCyan.map((v, i) => ({ x: barSlots[i], y: v })), borderColor: '#1ed2e6', borderWidth: 1.5, pointRadius: 0, tension: 0 },
        smooth(doeSignal, '#c2c200', 1.2),
        { type: 'scatter', data: doeHigh, pointRadius: 4, backgroundColor: '#ff0000', borderWidth: 0 },
        { type: 'scatter', data: doeLow, pointRadius: 4, backgroundColor: '#00ee00', borderWidth: 0 }
    ] },
    options: { ...base(12), scales: {
        x: hiddenX(),
        y: yAxis('left', 68, -1.0, 1.342, doeTicks, doeMinor, v => de(v, 2)),
        yr: yAxis('right', 72, -1.0, 1.342, doeTicks, doeMinor, v => de(v, 2))
    } }
})

// ---- Archicortex ----
new Chart(document.getElementById('archi'), {
    type: 'line',
    data: { datasets: [
        ...archiLevels.map(lv => levelLine(lv, '#23b023', [10, 4, 2, 4])),
        smooth(archiRed, '#d01010', 1.5),
        smooth(archiGreen, '#33cc11', 1.5)
    ] },
    options: { ...base(12), scales: {
        x: hiddenX(),
        y: yAxis('left', 68, -2.55, 113.1, archiTicks, archiMinor, v => de(v, 2)),
        yr: yAxis('right', 72, -2.55, 113.1, archiTicks, archiMinor, v => de(v, 2))
    } }
})

// ---- Neocortex ----
const thou = arr => arr.map(([x, y]) => [x, y / 1000])
new Chart(document.getElementById('neo'), {
    type: 'line',
    data: { datasets: [
        smooth(thou(neoFast), '#a0a0a0', 1, [2, 3]),
        smooth(thou(neoSlow), '#10c0d8', 1.5),
        smooth(thou(neoMid), '#e8c800', 1.5)
    ] },
    options: { ...base(12), scales: {
        x: hiddenX(),
        y: yAxis('left', 68, 0.00205, 0.009719, neoTicks, neoMinor, v => de(v, 6)),
        yr: yAxis('right', 72, 0.00205, 0.009719, neoTicks, neoMinor, v => de(v, 6))
    } }
})

// ---- Price ----
const upDown = candles.map(c => c[3] >= c[0] ? '#00ff00' : '#ff0000')
const yearLine = {
    id: 'yearLine',
    afterDraw(chart) {
        const t = monthTicks.find(m => /^\d{4}$/.test(m.label))
        if (!t) return
        const x = chart.scales.x.getPixelForValue(t.value)
        const ctx = chart.ctx
        ctx.save()
        ctx.strokeStyle = '#d0d0d0'
        ctx.lineWidth = 1
        ctx.beginPath()
        ctx.moveTo(Math.round(x) + 0.5, chart.chartArea.bottom + 6)
        ctx.lineTo(Math.round(x) + 0.5, chart.height)
        ctx.stroke()
        ctx.restore()
    }
}
function marks(data, opts) {
    return { type: 'scatter', data: pts(data), order: 0, ...opts }
}
new Chart(document.getElementById('price'), {
    type: 'bar',
    data: { datasets: [
        { data: candles.map((c, i) => ({ x: barSlots[i], y: [c[2], c[1]] })), backgroundColor: upDown,
          barThickness: 1.4, grouped: false, order: 3, borderWidth: 0 },
        { data: candles.map((c, i) => ({ x: barSlots[i], y: [c[0], c[3]] })), backgroundColor: upDown,
          barThickness: 5, minBarLength: 1.5, grouped: false, order: 2, borderWidth: 0 },
        marks(sigGray, { pointRadius: 5.5, backgroundColor: '#d8d8d8', borderColor: '#9a9ab8', borderWidth: 1 }),
        marks(sigRed, { pointRadius: 5.5, backgroundColor: '#ff2020', borderColor: '#ffa070', borderWidth: 1.5 }),
        marks(sigGreen, { pointRadius: 5, backgroundColor: '#00ee00', borderWidth: 0 }),
        marks(sigBlue, { pointRadius: 3.5, backgroundColor: '#2030ff', borderWidth: 0 }),
        marks(sigWhite, { pointRadius: 3, backgroundColor: '#ffffff', borderWidth: 0 }),
        marks(crossGreen, { pointStyle: 'cross', pointRadius: 4.5, borderColor: '#33dd77', borderWidth: 1.6 }),
        marks(crossRed, { pointStyle: 'cross', pointRadius: 4.5, borderColor: '#ff2020', borderWidth: 1.6 })
    ] },
    options: { ...base(0), scales: {
        x: { type: 'linear', min: xMin, max: xMax, offset: false, position: 'bottom',
            afterFit: s => { s.height = 27 },
            afterBuildTicks: s => { s.ticks = monthTicks.map(t => ({ value: t.value })) },
            grid: { drawOnChartArea: false, offset: false, tickLength: 6, tickColor: AXIS },
            border: { color: AXIS, width: 1.5 },
            ticks: { color: '#ffff00', align: 'start', padding: -3, autoSkip: false, maxRotation: 0,
                font: { family: "'Liberation Sans Narrow', 'DejaVu Sans Condensed', sans-serif", size: 17, weight: 'bold' },
                callback: v => (monthTicks.find(t => t.value === v) || {}).label } },
        y: yAxis('left', 68, 4673.9, 6608.7, priceTicks, priceMinor, v => de(v, 2)),
        yr: yAxis('right', 72, 4673.9, 6608.7, priceTicks, priceMinor, v => de(v, 2))
    } },
    plugins: [yearLine]
})

const last = de(candles[candles.length - 1][3], 2)
document.getElementById('tagL').textContent = last
document.getElementById('tagR').textContent = last
</script>
</body>
</html>
